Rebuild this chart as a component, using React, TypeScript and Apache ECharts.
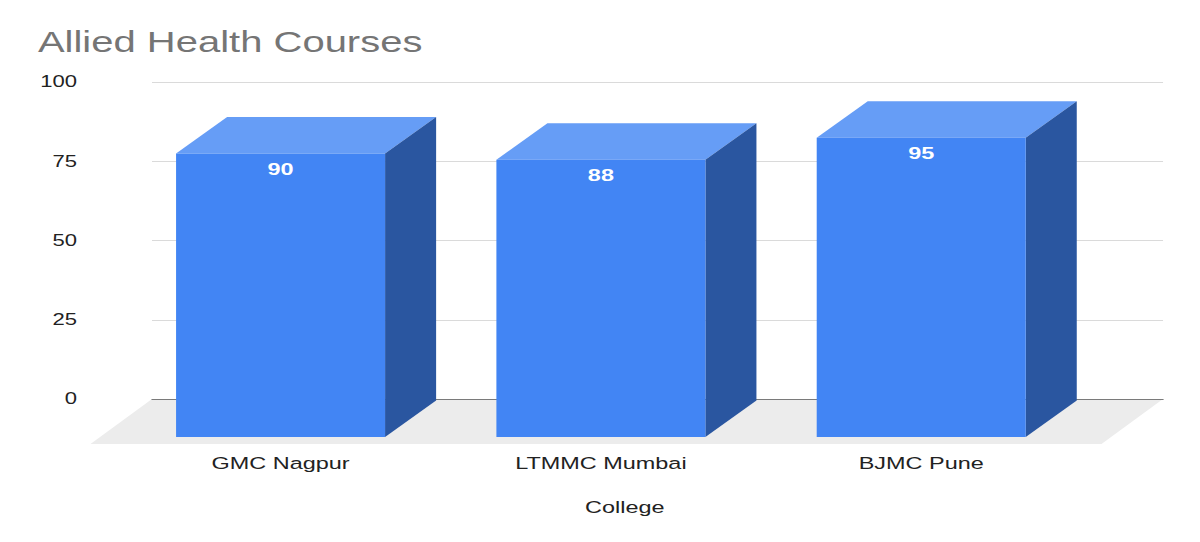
import React, { useEffect, useRef } from "react";
import * as echarts from "echarts";

const TITLE = "Allied Health Courses";
const CATEGORIES = ["GMC Nagpur", "LTMMC Mumbai", "BJMC Pune"];
const VALUES = [90, 88, 95];
const Y_TICKS_MAX = 100;
const Y_INTERVAL = 25;
const X_AXIS_TITLE = "College";

// the reference image is stretched horizontally; draw narrower and stretch
const OUT_W = 1200;
const IN_W = 870;
const SX = OUT_W / IN_W;
const H = 542;

const FONT = "'Liberation Sans', Arial, sans-serif";
const FRONT = "#4285f4";
const TOP = "#669df6";
const SIDE = "#2a56a0";
const FLOOR = "#ececec";
const BAR_FRAC = 0.6525;
const DEPTH: [number, number] = [37, -36.5];
const FLOOR_DEPTH: [number, number] = [-44.6, 45];

export default function App() {
  const ref = useRef<HTMLDivElement>(null);
  useEffect(() => {
    if (!ref.current) return;
    const chart = echarts.init(ref.current, undefined, { renderer: "svg" });
    const option: any = {
      animation: false,
      backgroundColor: "#ffffff",
      title: {
        text: TITLE,
        left: 22.5,
        top: 22.5,
        textStyle: { fontFamily: FONT, fontSize: 29, fontWeight: "normal", color: "#757575" },
      },
      grid: [
        { left: 110.2, top: 82, width: 733, height: 317, containLabel: false },
        { left: 87.3, top: 122, width: 696.7, height: 315, containLabel: false },
      ],
      xAxis: [
        {
          gridIndex: 0,
          type: "category",
          data: CATEGORIES,
          z: 1,
          axisLine: { show: true, lineStyle: { color: "#7a7a7a", width: 1 } },
          axisTick: { show: false },
          axisLabel: { show: false },
          splitLine: { show: false },
        },
        {
          gridIndex: 1,
          type: "category",
          data: CATEGORIES,
          z: 1,
          axisLine: { show: false },
          axisTick: { show: false },
          axisLabel: { show: true, margin: 17, fontFamily: FONT, fontSize: 17, color: "#222222" },
          splitLine: { show: false },
        },
      ],
      yAxis: [
        {
          gridIndex: 0,
          type: "value",
          min: 0,
          max: Y_TICKS_MAX,
          interval: Y_INTERVAL,
          z: 1,
          axisLine: { show: false },
          axisTick: { show: false },
          axisLabel: { margin: 54.4, fontFamily: FONT, fontSize: 16, color: "#222222" },
          splitLine: { show: true, lineStyle: { color: "#dadada", width: 1 } },
        },
        {
          gridIndex: 1,
          type: "value",
          min: 0,
          max: Y_TICKS_MAX,
          interval: Y_INTERVAL,
          show: false,
          splitLine: { show: false },
        },
      ],
      graphic: [
        {
          type: "text",
          x: 453,
          y: 507,
          style: {
            text: X_AXIS_TITLE,
            fontFamily: FONT,
            fontSize: 17,
            fill: "#222222",
            align: "center",
            verticalAlign: "middle",
          },
        },
      ],
      series: [
        {
          type: "custom",
          name: "floor",
          xAxisIndex: 0,
          yAxisIndex: 0,
          z: 0,
          silent: true,
          data: [[0, 0]],
          renderItem: (_p: any, api: any) => {
            const band = api.size([1, 0])[0];
            const a = api.coord([0, 0]);
            const b = api.coord([CATEGORIES.length - 1, 0]);
            const xl = a[0] - band / 2;
            const xr = b[0] + band / 2;
            const y = a[1];
            const [fx, fy] = FLOOR_DEPTH;
            return {
              type: "polygon",
              shape: { points: [[xl, y], [xr, y], [xr + fx, y + fy], [xl + fx, y + fy]] },
              style: { fill: FLOOR },
            };
          },
        },
        {
          type: "custom",
          name: "Allied Health Courses",
          xAxisIndex: 1,
          yAxisIndex: 1,
          z: 2,
          data: VALUES.map((v, i) => [i, v]),
          renderItem: (_p: any, api: any) => {
            const idx = api.value(0);
            const v = api.value(1);
            const top = api.coord([idx, v]);
            const bot = api.coord([idx, 0]);
            const band = api.size([1, 0])[0];
            const w = band * BAR_FRAC;
            const x0 = top[0] - w / 2;
            const x1 = top[0] + w / 2;
            const [dx, dy] = DEPTH;
            const ty = top[1];
            const by = bot[1];
            return {
              type: "group",
              children: [
                {
                  type: "polygon",
                  shape: { points: [[x0, ty], [x1, ty], [x1 + dx, ty + dy], [x0 + dx, ty + dy]] },
                  style: { fill: TOP },
                },
                {
                  type: "polygon",
                  shape: { points: [[x1, ty], [x1 + dx, ty + dy], [x1 + dx, by + dy], [x1, by]] },
                  style: { fill: SIDE },
                },
                {
                  type: "rect",
                  shape: { x: x0, y: ty, width: w, height: by - ty },
                  style: { fill: FRONT },
                },
                {
                  type: "text",
                  x: top[0],
                  y: ty + 15,
                  style: {
                    text: String(v),
                    fontFamily: FONT,
                    fontSize: 17,
                    fontWeight: "bold",
                    fill: "#ffffff",
                    align: "center",
                    verticalAlign: "middle",
                  },
                },
              ],
            };
          },
        },
      ],
    };
    chart.setOption(option);
    return () => chart.dispose();
  }, []);
  return (
    <div
      ref={ref}
      style={{
        position: "absolute",
        left: 0,
        top: 0,
        width: IN_W,
        height: H,
        transform: `scaleX(${SX})`,
        transformOrigin: "0 0",
      }}
    />
  );
}
